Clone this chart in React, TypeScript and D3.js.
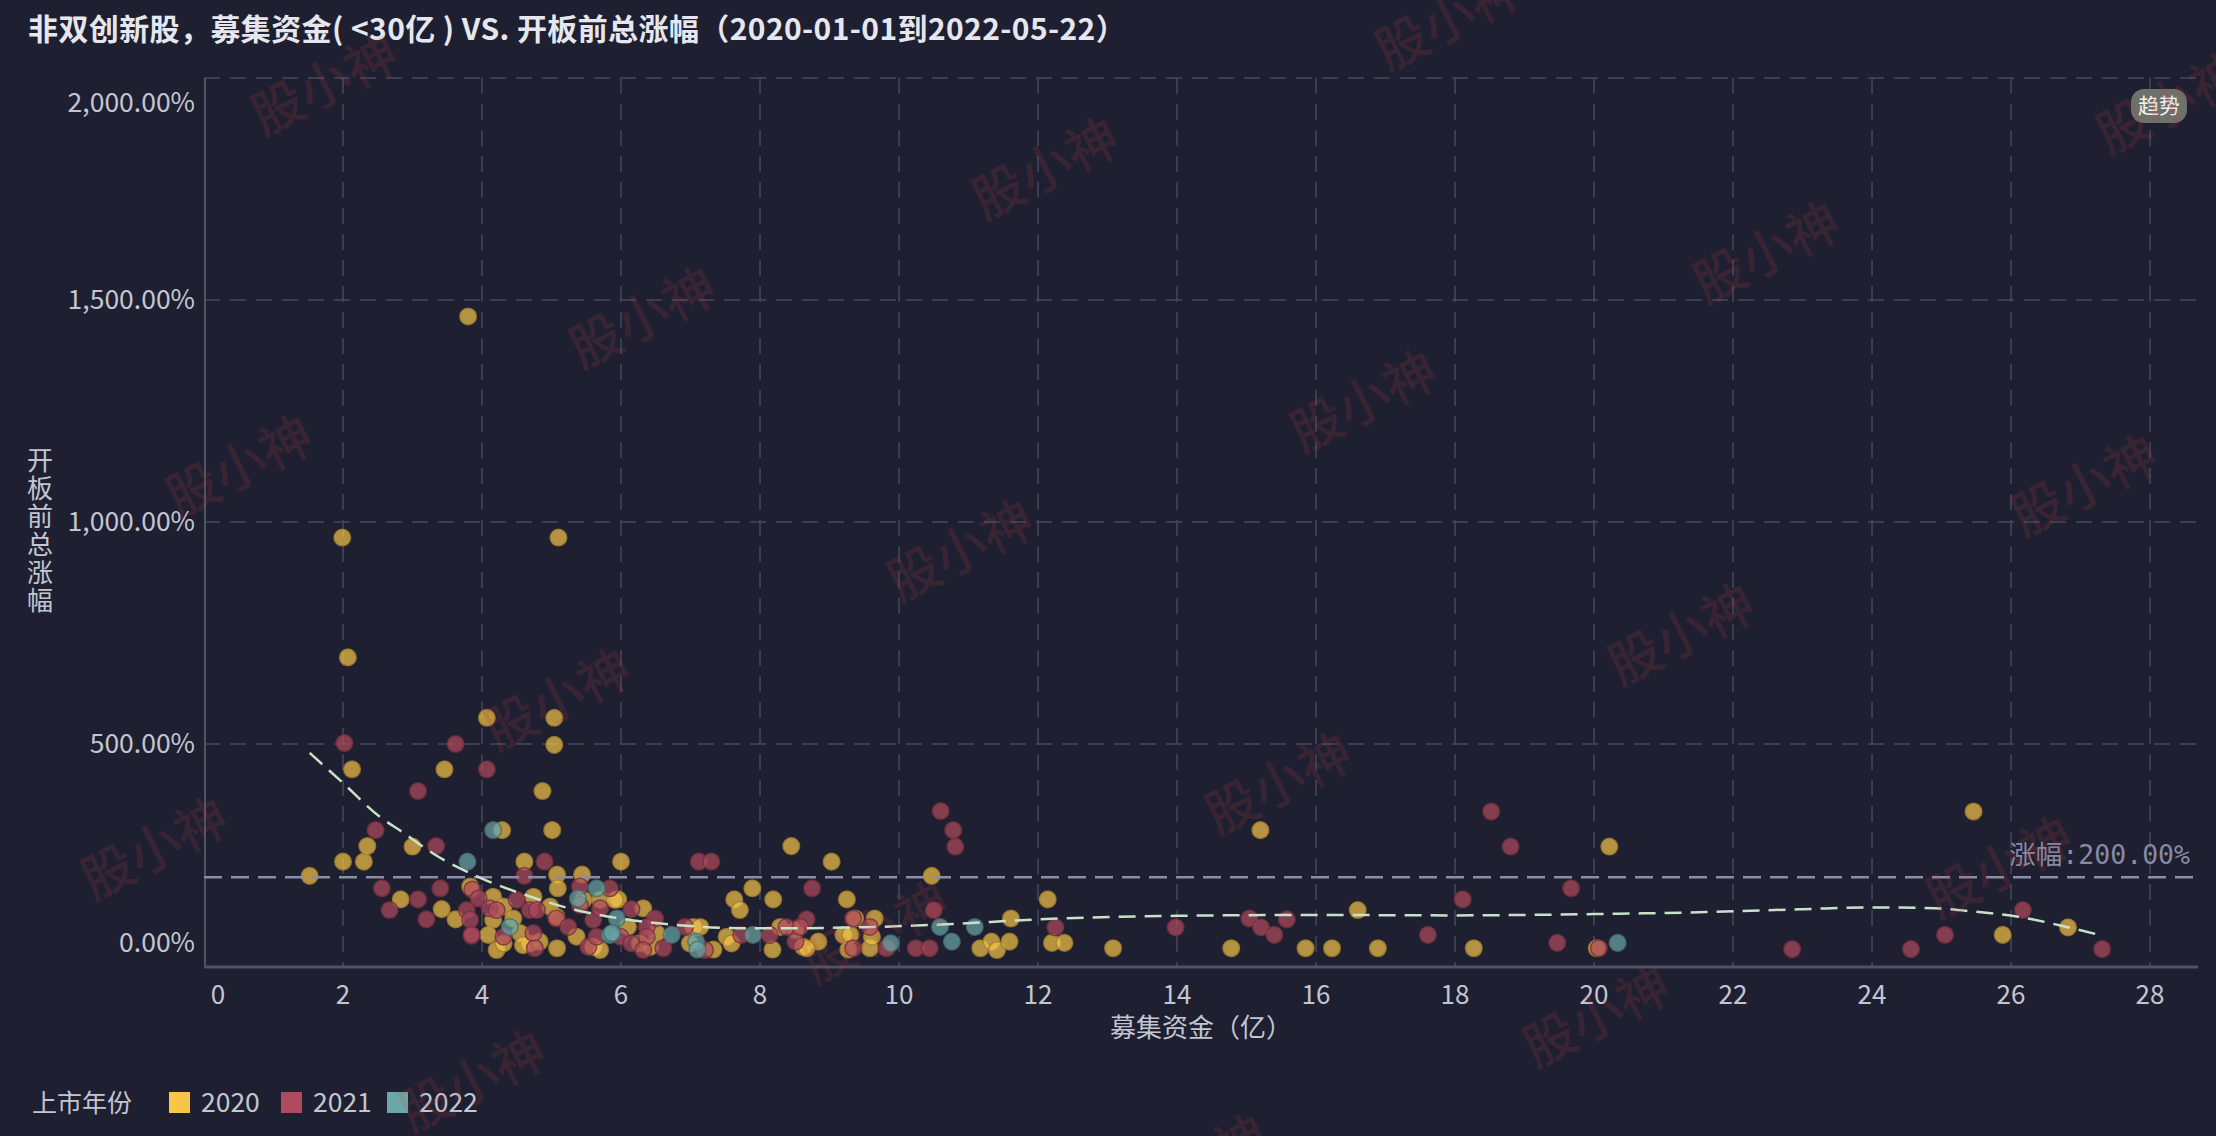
import React, { useEffect, useRef } from "react";
import * as d3 from "d3";

// ---------------- data ----------------
const years = ["2020", "2021", "2022"];
const yearColors = ["#f7c548", "#b04a5e", "#6aa8a8"];

// [募集资金(亿), 开板前总涨幅(%)]
const pts2020: [number, number][] = [
  [1.52, 203], [2.0, 235], [2.3, 235], [2.35, 270], [2.13, 443], [2.07, 695], [1.99, 965], [2.83, 150],
  [3.0, 269], [3.46, 443], [3.42, 128], [3.62, 105], [3.8, 1463], [4.07, 559], [5.04, 559], [5.04, 498],
  [5.1, 965], [4.87, 394], [4.29, 306], [5.01, 306], [4.61, 235], [6.0, 235], [5.08, 206], [5.44, 206],
  [5.09, 175], [5.96, 150], [7.89, 175], [7.63, 150], [7.71, 126], [8.19, 150], [8.45, 270], [9.03, 235],
  [9.25, 150], [10.47, 203], [5.08, 40],
  [3.83, 179], [4.16, 156], [4.31, 134], [4.74, 156], [4.98, 134], [5.07, 111], [4.16, 104], [4.45, 107],
  [4.09, 70], [4.55, 74], [4.21, 36], [4.31, 51], [4.69, 51], [4.83, 55], [5.46, 149], [5.7, 149],
  [5.91, 149], [5.36, 66], [5.6, 43], [5.7, 36], [4.59, 47],
  [6.32, 130], [6.1, 88], [6.51, 74], [6.27, 51], [6.42, 43], [7.04, 88], [7.14, 88], [6.99, 51],
  [7.33, 37], [7.52, 66], [7.59, 51], [8.18, 37], [8.29, 88], [8.51, 81], [8.62, 43],
  [8.84, 55], [8.67, 40], [9.2, 70], [9.3, 70], [9.37, 107], [9.65, 107], [9.58, 40], [9.27, 37],
  [11.17, 40], [11.33, 55], [9.61, 66], [11.41, 36], [11.59, 55], [11.61, 107], [12.14, 150],
  [12.2, 52], [12.38, 52], [13.08, 40], [15.2, 306], [14.78, 40], [15.85, 40], [16.23, 40], [16.6, 126],
  [16.89, 40], [18.27, 40], [20.22, 269], [20.04, 40], [25.46, 348], [25.88, 70], [26.82, 87],
];

const pts2021: [number, number][] = [
  [2.02, 502], [3.62, 500], [4.07, 443], [3.08, 394], [2.47, 306], [3.34, 270], [2.56, 175], [2.67, 126],
  [3.08, 150], [3.2, 105], [3.4, 175], [3.85, 68], [4.9, 235], [4.61, 203], [7.12, 235], [7.3, 235],
  [8.75, 175], [8.67, 105], [10.6, 349], [10.78, 306], [10.81, 269], [10.24, 40], [10.44, 40], [10.5, 126],
  [3.86, 172], [3.95, 152], [3.78, 126], [3.83, 104], [4.11, 130], [4.21, 126], [4.5, 149], [4.69, 126],
  [4.79, 126], [3.85, 70], [4.31, 66], [4.74, 74], [4.76, 40], [5.07, 107], [5.24, 88], [5.41, 137],
  [5.41, 179], [5.6, 104], [5.7, 130], [5.53, 43], [5.84, 175], [5.65, 66],
  [6.15, 128], [6.49, 107], [6.37, 88], [6.37, 66], [5.99, 66], [6.15, 51], [6.32, 36], [6.61, 40],
  [6.92, 88], [7.21, 36], [7.73, 70], [8.14, 70], [8.38, 88], [8.51, 55],
  [9.34, 107], [9.58, 88], [9.34, 40], [8.58, 88], [9.82, 40],
  [12.25, 87], [13.98, 87], [15.04, 107], [15.21, 87], [15.4, 70], [15.58, 105], [17.61, 70], [18.11, 150],
  [18.52, 348], [18.8, 269], [19.47, 52], [19.67, 175], [20.07, 40], [22.85, 38], [24.56, 38], [25.05, 70],
  [26.17, 126], [27.31, 38],
];

const pts2022: [number, number][] = [
  [4.16, 306], [3.79, 235], [6.73, 70], [7.9, 70], [9.88, 51], [10.59, 88], [5.65, 175], [5.38, 152],
  [4.4, 88], [5.84, 70], [5.94, 107], [5.87, 74], [7.08, 55], [7.1, 37], [10.76, 55], [11.09, 88],
  [20.34, 52],
];

// trend curve (趋势)
const trendPts: [number, number][] = [
  [1.52, 480], [1.98, 415], [2.53, 336], [2.88, 299], [3.29, 254], [4.0, 197], [4.7, 156], [5.35, 126],
  [5.99, 107], [6.83, 92], [7.73, 85], [8.37, 85], [9.65, 88], [10.68, 94], [12.0, 105], [14.0, 113],
  [16.0, 115], [18.0, 114], [20.0, 117], [21.5, 121], [23.0, 128], [24.0, 132], [24.9, 130], [25.5, 122],
  [26.1, 111], [26.8, 88], [27.27, 70],
];

const xTicks = [0, 2, 4, 6, 8, 10, 12, 14, 16, 18, 20, 22, 24, 26, 28];
const yTicks = [0, 500, 1000, 1500, 2000];
const refValue = 200;

const titleText = "非双创新股，募集资金( <30亿 ) VS. 开板前总涨幅（2020-01-01到2022-05-22）";
const xTitle = "募集资金（亿）";
const yTitle = "开板前总涨幅";
const legendTitle = "上市年份";
const watermarkText = "股小神";

// ---------------- layout ----------------
const W = 2216, H = 1136;
const PL = 204, PR = 2198, PT = 78, PB = 966;
const BG = "#1e2031";
const FONT = "'Noto Sans CJK SC','Noto Sans',sans-serif";
const TXT = "#c3c6d2";

export default function App() {
  const ref = useRef<SVGSVGElement>(null);
  useEffect(() => {
    document.body.style.margin = "0";
    const svg = d3.select(ref.current);
    svg.selectAll("*").remove();

    const x = d3.scaleLinear().domain([0, 28.69]).range([PL, PR]);
    const y = d3.scaleLinear().domain([0, 2000]).range([PB, PT]);

    svg.append("rect").attr("width", W).attr("height", H).attr("fill", BG);

    // grid
    const g = svg.append("g");
    g.selectAll(".vg").data(xTicks.filter(d => d > 0)).join("line")
      .attr("x1", d => x(d)).attr("x2", d => x(d)).attr("y1", PT).attr("y2", PB)
      .attr("stroke", "#45485b").attr("stroke-width", 1.5).attr("stroke-dasharray", "16 10");
    g.selectAll(".hg").data(yTicks.filter(d => d > 0)).join("line")
      .attr("x1", PL).attr("x2", PR).attr("y1", d => y(d)).attr("y2", d => y(d))
      .attr("stroke", "#45485b").attr("stroke-width", 1.5).attr("stroke-dasharray", "16 10");

    // axes lines
    g.append("line").attr("x1", PL + 1).attr("x2", PL + 1).attr("y1", PT).attr("y2", PB)
      .attr("stroke", "#505365").attr("stroke-width", 2);
    g.append("line").attr("x1", PL).attr("x2", PR).attr("y1", PB + 1).attr("y2", PB + 1)
      .attr("stroke", "#505365").attr("stroke-width", 3);

    // y tick labels
    const fmt = (v: number) => d3.format(",.2f")(v) + "%";
    g.selectAll(".yl").data(yTicks).join("text")
      .attr("x", 195)
      .attr("y", d => y(d) + (d === 2000 ? 25 : d === 0 ? -23 : 0))
      .attr("dy", "0.35em").attr("text-anchor", "end")
      .attr("font-family", FONT).attr("font-size", 26.5).attr("fill", TXT)
      .text(d => fmt(d));

    // x tick labels
    g.selectAll(".xl").data(xTicks).join("text")
      .attr("x", d => (d === 0 ? x(d) + 14 : x(d)))
      .attr("y", 995).attr("dy", "0.35em").attr("text-anchor", "middle")
      .attr("font-family", FONT).attr("font-size", 26).attr("fill", TXT)
      .text(d => String(d));

    // axis titles
    g.append("text").attr("x", (PL + PR) / 2).attr("y", 1028).attr("dy", "0.35em")
      .attr("text-anchor", "middle").attr("font-family", FONT).attr("font-size", 26).attr("fill", TXT)
      .text(xTitle);
    g.append("text").attr("x", 40).attr("y", 531)
      .attr("writing-mode", "vertical-rl").attr("text-anchor", "middle")
      .attr("letter-spacing", 2)
      .attr("font-family", FONT).attr("font-size", 26).attr("fill", TXT)
      .text(yTitle);

    // points
    const series = [pts2020, pts2021, pts2022];
    series.forEach((pts, si) => {
      const c = yearColors[si];
      const dark = d3.color(c)!.darker(1.2).formatHex();
      svg.append("g").selectAll("circle").data(pts).join("circle")
        .attr("cx", d => x(d[0])).attr("cy", d => y(d[1])).attr("r", 8.3)
        .attr("fill", c).attr("fill-opacity", 0.7)
        .attr("stroke", dark).attr("stroke-opacity", 0.8).attr("stroke-width", 1.5);
    });

    // reference line
    svg.append("line").attr("x1", PL).attr("x2", PR).attr("y1", y(refValue)).attr("y2", y(refValue))
      .attr("stroke", "#8c8ca6").attr("stroke-width", 2.5).attr("stroke-dasharray", "18 9");
    svg.append("text").attr("x", 2190).attr("y", 855).attr("dy", "0.35em").attr("text-anchor", "end")
      .attr("font-family", "'DejaVu Sans Mono','Noto Sans CJK SC',monospace").attr("font-size", 26.5)
      .attr("fill", "#8a8aa2").text("涨幅:" + fmt(refValue));

    // trend line
    const line = d3.line<[number, number]>().x(d => x(d[0])).y(d => y(d[1])).curve(d3.curveMonotoneX);
    svg.append("path").attr("d", line(trendPts)).attr("fill", "none")
      .attr("stroke", "#c8e2c8").attr("stroke-width", 2.5).attr("stroke-dasharray", "17 9");

    // title
    svg.append("text").attr("x", 28).attr("y", 29).attr("dy", "0.35em")
      .attr("font-family", FONT).attr("font-size", 30).attr("font-weight", "bold").attr("fill", "#e6e7ee")
      .attr("letter-spacing", 0.4)
      .text(titleText);

    // 趋势 badge
    svg.append("rect").attr("x", 2131).attr("y", 89).attr("width", 56).attr("height", 34).attr("rx", 13)
      .attr("fill", "#6c7169");
    svg.append("text").attr("x", 2159).attr("y", 106).attr("dy", "0.35em").attr("text-anchor", "middle")
      .attr("font-family", FONT).attr("font-size", 21).attr("fill", "#f2f2f2").text("趋势");

    // legend
    const lg = svg.append("g");
    lg.append("text").attr("x", 32).attr("y", 1103).attr("dy", "0.35em")
      .attr("font-family", FONT).attr("font-size", 25).attr("fill", TXT).text(legendTitle);
    const legX = [169, 281, 387];
    years.forEach((yr, i) => {
      lg.append("rect").attr("x", legX[i]).attr("y", 1092).attr("width", 21).attr("height", 21)
        .attr("fill", yearColors[i]);
      lg.append("text").attr("x", legX[i] + 32).attr("y", 1103).attr("dy", "0.35em")
        .attr("font-family", FONT).attr("font-size", 26.5).attr("fill", TXT).text(yr);
    });

    // watermark
    const wm = svg.append("g").attr("pointer-events", "none");
    for (let i = -4; i <= 8; i++) {
      for (let j = -3; j <= 4; j++) {
        const cx = 325 + i * 318 - j * 85;
        const cy = 85 + i * 233 + j * 382;
        if (cx < -150 || cx > W + 150 || cy < -100 || cy > H + 100) continue;
        wm.append("text").attr("x", cx).attr("y", cy).attr("dy", "0.35em").attr("text-anchor", "middle")
          .attr("transform", `rotate(-27 ${cx} ${cy})`)
          .attr("font-family", FONT).attr("font-size", 52).attr("font-weight", 500)
          .attr("fill", "rgba(200,60,70,0.16)").text(watermarkText);
      }
    }
  }, []);
  return <svg ref={ref} width={W} height={H} style={{ display: "block" }} />;
}
